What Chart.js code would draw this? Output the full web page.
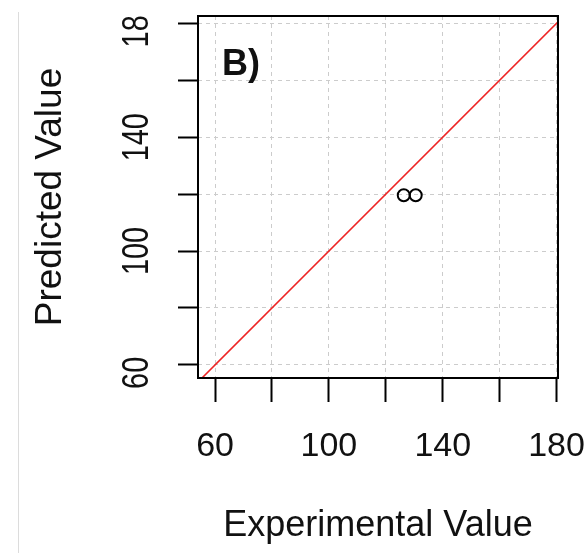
<!DOCTYPE html>
<html>
<head>
<meta charset="utf-8">
<script src="https://cdn.jsdelivr.net/npm/chart.js@4.4.0/dist/chart.umd.min.js"></script>
<style>
  html, body { margin: 0; padding: 0; background: #fff; }
  #wrap { position: relative; width: 587px; height: 553px; }
  #edge { position: absolute; left: 18px; top: 12px; bottom: 0; width: 1px; background: #dcdcdc; }
</style>
</head>
<body>
<div id="wrap">
  <div id="edge"></div>
  <canvas id="myChart" width="587" height="553"></canvas>
</div>
<script>
const FONT = '"Liberation Sans", Arial, sans-serif';

// observed vs predicted
const experimental = [126.3, 130.5];
const predicted = [119.6, 119.6];
// 1:1 reference line
const identity = [40, 200];
const xTickLabels = { 60: '60', 100: '100', 140: '140', 180: '180' };
const yTickLabels = { 60: '60', 100: '100', 140: '140', 180: '18' };
const panelLabel = 'B)';

const ctx = document.getElementById('myChart').getContext('2d');

// box round the plot, rotated y labels and the panel letter (R look)
const rStyle = {
  id: 'rStyle',
  afterDraw(chart) {
    const { ctx, chartArea: a, scales: { y } } = chart;
    ctx.save();
    ctx.strokeStyle = '#000';
    ctx.lineWidth = 2;
    ctx.strokeRect(a.left, a.top, a.right - a.left, a.bottom - a.top);

    ctx.fillStyle = '#111';
    ctx.font = '37px ' + FONT;
    ctx.textAlign = 'left';
    ctx.textBaseline = 'alphabetic';
    y.ticks.forEach(t => {
      const txt = yTickLabels[t.value];
      if (!txt) return;
      ctx.save();
      ctx.translate(a.left - 50, y.getPixelForValue(t.value) + 24);
      ctx.rotate(-Math.PI / 2);
      ctx.scale(0.78, 1);
      ctx.fillText(txt, 0, 0);
      ctx.restore();
    });

    ctx.font = 'bold 36px ' + FONT;
    ctx.fillText(panelLabel, a.left + 24, a.top + 59);
    ctx.restore();
  }
};

new Chart(ctx, {
  type: 'scatter',
  data: {
    datasets: [
      {
        data: identity.map(v => ({ x: v, y: v })),
        showLine: true,
        borderColor: 'rgb(238, 36, 36)',
        borderWidth: 1.6,
        pointRadius: 0,
        clip: 0,
      },
      {
        data: experimental.map((v, i) => ({ x: v, y: predicted[i] })),
        pointStyle: 'circle',
        pointRadius: 6,
        borderColor: '#000',
        borderWidth: 2,
        backgroundColor: 'rgba(0,0,0,0)',
      },
    ],
  },
  options: {
    responsive: false,
    animation: false,
    layout: { padding: { top: 16, right: 29, left: 0, bottom: 0 } },
    plugins: { legend: { display: false }, tooltip: { enabled: false } },
    scales: {
      x: {
        type: 'linear',
        min: 54,
        max: 180.5,
        afterFit: s => { s.height = 175; s.paddingLeft = 0; s.paddingRight = 0; },
        grid: {
          color: '#cccccc',
          lineWidth: 1,
          tickColor: '#000',
          tickWidth: 2,
          tickLength: 24,
          tickBorderDash: [],
          borderDash: [4, 4],
        },
        border: { display: false, dash: [4, 4] },
        ticks: {
          stepSize: 20,
          includeBounds: false,
          autoSkip: false,
          maxRotation: 0,
          padding: 24,
          color: '#111',
          font: { size: 34, family: FONT },
          callback: v => xTickLabels[v] || '',
        },
        title: {
          display: true,
          text: 'Experimental Value',
          color: '#111',
          font: { size: 36, family: FONT },
          padding: { top: 0, bottom: 5 },
        },
      },
      y: {
        type: 'linear',
        min: 55.4,
        max: 182.6,
        afterFit: s => { s.width = 198; s.paddingTop = 0; s.paddingBottom = 0; },
        grid: {
          color: '#cccccc',
          lineWidth: 1,
          tickColor: '#000',
          tickWidth: 2,
          tickLength: 20,
          tickBorderDash: [],
          borderDash: [4, 4],
        },
        border: { display: false, dash: [4, 4] },
        ticks: {
          stepSize: 20,
          includeBounds: false,
          autoSkip: false,
          display: false,
        },
        title: {
          display: true,
          text: 'Predicted Value',
          color: '#111',
          font: { size: 37, family: FONT },
          padding: { top: 29, bottom: 0 },
        },
      },
    },
  },
  plugins: [rStyle],
});
</script>
</body>
</html>
